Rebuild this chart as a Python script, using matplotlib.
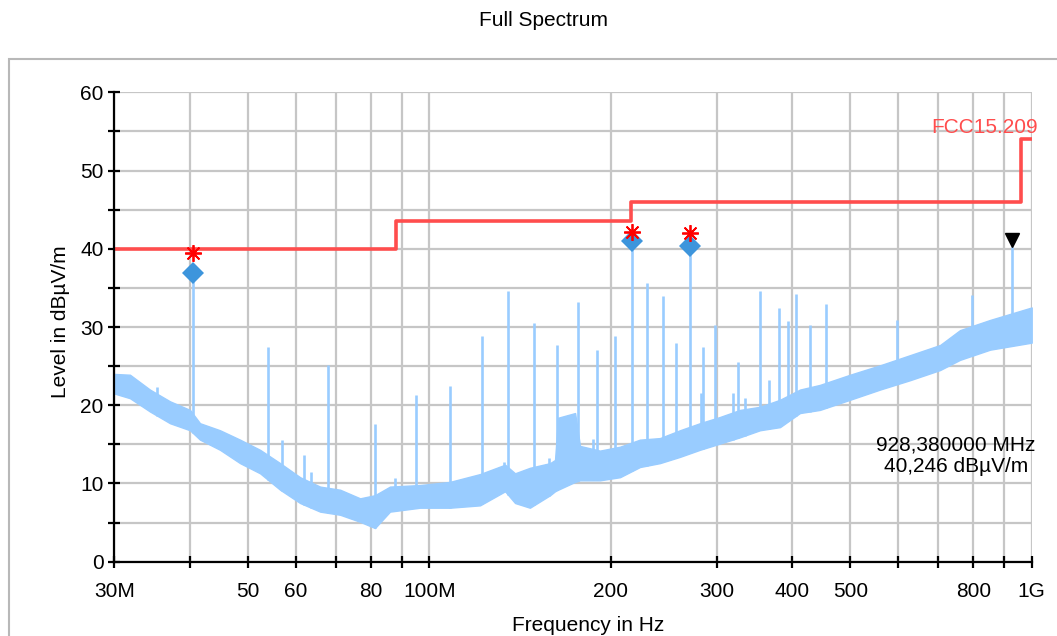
import numpy as np
import matplotlib
matplotlib.use("Agg")
import matplotlib.pyplot as plt
from matplotlib.patches import Rectangle
from matplotlib.ticker import FixedLocator, FixedFormatter, NullLocator
from matplotlib.transforms import offset_copy

plt.rcParams['font.family'] = ['Liberation Sans', 'DejaVu Sans']

# ---- measured spectrum (frequencies in MHz, levels in dBuV/m) ----
# noise floor band: lower and upper edge of the trace
band_freq = [30.0, 31.85, 34.38, 37.12, 40.07, 41.63, 44.94, 48.51, 52.37, 56.54,
             61.03, 65.88, 71.12, 76.77, 81.25, 86.05, 96.53, 108.2, 121.4, 133.6,
             138.8, 146.9, 158.7, 161.7, 163.6, 174.6, 177.9, 192.0, 207.3, 223.7,
             241.5, 260.7, 281.3, 303.8, 327.9, 353.9, 382.1, 412.4, 445.1, 499.5,
             560.0, 628.2, 704.6, 760.3, 852.8, 1000.0]
band_low = [21.5, 20.9, 19.2, 17.7, 16.8, 15.6, 14.3, 12.6, 11.3, 9.2,
            7.5, 6.4, 6.0, 5.1, 4.3, 6.4, 6.9, 6.9, 7.2, 9.0,
            7.5, 6.9, 8.5, 9.0, 9.2, 10.2, 10.4, 10.4, 10.8, 12.1,
            12.6, 13.4, 14.3, 15.1, 15.9, 16.8, 17.2, 19.0, 19.4, 20.7,
            22.0, 23.2, 24.5, 25.8, 27.1, 28.0]
band_high = [24.0, 23.9, 22.0, 20.5, 19.4, 17.7, 16.8, 15.6, 14.3, 12.6,
             10.8, 9.6, 9.2, 8.1, 8.5, 9.6, 9.8, 10.2, 11.2, 12.4,
             11.3, 12.0, 12.6, 13.0, 18.4, 19.0, 14.8, 14.2, 14.7, 15.6,
             15.8, 16.8, 17.7, 18.5, 19.4, 19.8, 20.7, 22.0, 22.6, 23.9,
             25.1, 26.4, 27.7, 29.6, 30.9, 32.5]

# narrowband emissions standing out of the floor
spike_freq = [40.5, 54.0, 67.9, 81.3, 95.0, 108.4, 122.3, 135.3, 149.1, 162.8,
              176.6, 190.1, 203.1, 217.3, 230.1, 244.3, 257.0, 271.2, 285.0, 298.0,
              325.8, 353.7, 366.9, 380.2, 394.5, 406.8, 428.0, 455.7, 597.6, 796.0,
              928.38,
              35.3, 57.0, 62.0, 63.6, 87.6, 133.0, 158.0, 187.0, 283.0, 319.0,
              334.0]
spike_level = [36.9, 27.5, 25.2, 17.6, 21.3, 22.5, 28.9, 34.6, 30.5, 27.7,
               33.2, 27.0, 28.9, 41.0, 35.6, 33.9, 27.9, 40.4, 27.5, 30.2,
               25.5, 34.6, 23.2, 32.4, 30.8, 34.2, 30.3, 33.0, 30.9, 34.1,
               40.246,
               22.3, 15.5, 13.6, 11.5, 10.7, 12.7, 13.3, 15.7, 21.5, 21.5,
               20.9]

# final measurement points
peak_freq = [40.5, 217.3, 271.2]
peak_level = [36.9, 41.0, 40.4]
qp_freq = [40.5, 217.3, 271.2]
qp_level = [39.5, 42.2, 42.0]

# marker readout
marker_freq = 928.38
marker_level = 40.246

# FCC 15.209 limit line
limit_freq = [30, 88, 216, 960, 1000]
limit_level = [40, 43.5, 46, 54, 54]

# axis ticks
x_ticks = [30, 40, 50, 60, 70, 80, 90, 100, 200, 300, 400, 500, 600, 700, 800, 900, 1000]
x_tick_labels = ['30M', '', '50', '60', '', '80', '', '100M', '200', '300', '400',
                 '500', '', '', '800', '', '1G']
y_ticks = [0, 5, 10, 15, 20, 25, 30, 35, 40, 45, 50, 55, 60]
y_tick_labels = ['0', '', '10', '', '20', '', '30', '', '40', '', '50', '', '60']

W, H = 1057, 636
fig = plt.figure(figsize=(W / 100, H / 100), dpi=100)
ax = fig.add_axes([114.3 / W, 1 - 561.7 / H, 917.4 / W, 469.4 / H])

trace_c = '#99ccff'
ax.fill_between(band_freq, band_low, band_high, color=trace_c, lw=1.0,
                edgecolor=trace_c, zorder=2)
spike_base = np.interp(np.log10(spike_freq), np.log10(band_freq), band_low)
ax.vlines(spike_freq, spike_base, spike_level, color=trace_c, lw=1.9, zorder=2)

ax.step(limit_freq, limit_level, where='post', color='#ff4d4d', lw=2.6, zorder=3)

ax.plot(peak_freq, peak_level, 'D', color='#3d95dc', ms=11, mew=0, zorder=4)
ax.plot(qp_freq, qp_level, ls='none', marker=(8, 2, 0), color='#ff0000',
        ms=12, mew=1.3, zorder=5)
ax.plot([marker_freq], [marker_level], 'v', color='black', ms=10, zorder=6,
        transform=offset_copy(ax.transData, fig=fig, y=7, units='dots'))

ax.set_xscale('log')
ax.set_xlim(30, 1000)
ax.set_ylim(0, 60)
ax.xaxis.set_major_locator(FixedLocator(x_ticks))
ax.xaxis.set_major_formatter(FixedFormatter(x_tick_labels))
ax.xaxis.set_minor_locator(NullLocator())
ax.yaxis.set_major_locator(FixedLocator(y_ticks))
ax.yaxis.set_major_formatter(FixedFormatter(y_tick_labels))

ax.grid(True, color='#c6c6c6', lw=1.6, zorder=0)
ax.set_axisbelow(True)
for s in ('top', 'right'):
    ax.spines[s].set_visible(False)
for s in ('left', 'bottom'):
    ax.spines[s].set_linewidth(1.6)
    ax.spines[s].set_zorder(7)
ax.tick_params(axis='both', direction='inout', length=8.5, width=1.6,
               colors='black', labelsize=15)
ax.tick_params(axis='x', pad=10.5)
ax.tick_params(axis='y', pad=3.5)

ax.text(1.0065, 0.924, 'FCC15.209', transform=ax.transAxes, ha='right',
        va='center', color='#ff4d4d', fontsize=15)
ax.text(0.9175, 0.225, '928,380000 MHz\n40,246 dB\u00b5V/m', transform=ax.transAxes,
        ha='center', va='center', fontsize=15, linespacing=1.15)

fig.text(543 / W, 1 - 21 / H, 'Full Spectrum', ha='center', va='center', fontsize=15)
fig.text(588 / W, 1 - 631 / H, 'Frequency in Hz', ha='center', va='baseline', fontsize=15)
fig.text(60 / W, 1 - 322 / H, 'Level in dB\u00b5V/m', rotation=90, ha='center',
         va='center', fontsize=15)

fig.patches.append(Rectangle((9 / W, -0.1), 1.2, 0.1 + 1 - 59 / H,
                             transform=fig.transFigure, fill=False,
                             edgecolor='#b8b8b8', lw=1.5))

fig.savefig('out.png', dpi=100)
